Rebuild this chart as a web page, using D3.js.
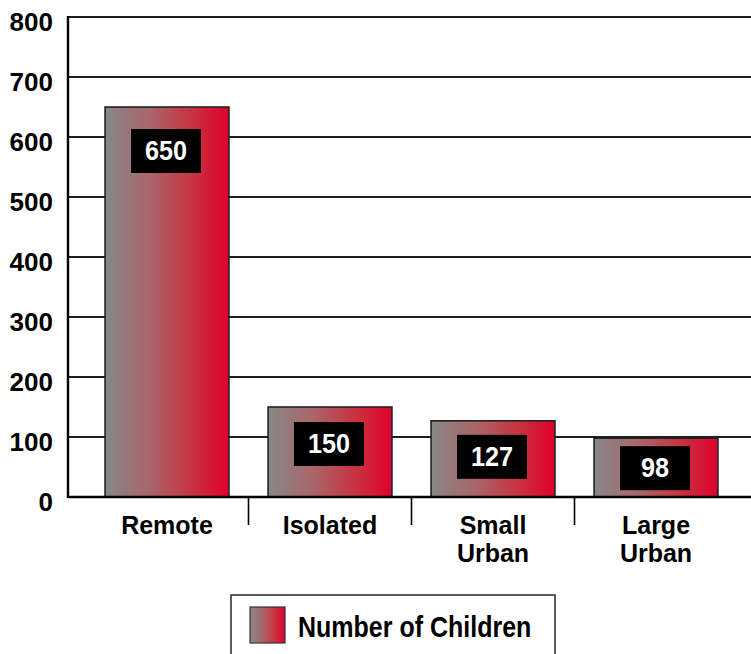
<!DOCTYPE html>
<html><head><meta charset="utf-8">
<script src="https://cdn.jsdelivr.net/npm/d3@7/dist/d3.min.js"></script>
<style>body{margin:0;background:#fff}svg{display:block}</style>
</head><body>
<svg id="c" width="751" height="654"></svg>
<script>
const categories = [["Remote"], ["Isolated"], ["Small", "Urban"], ["Large", "Urban"]];
const categoryKeys = ["Remote", "Isolated", "Small Urban", "Large Urban"];
const values = [650, 150, 127, 98];
const yTicks = [0, 100, 200, 300, 400, 500, 600, 700, 800];
const seriesName = "Number of Children";

// layout (not data)
const labelDrop = [44, 37, 36, 30];
const font = "'Liberation Sans',Arial,sans-serif";

const svg = d3.select("#c");
const defs = svg.append("defs");
const grad = defs.append("linearGradient").attr("id", "g").attr("x1", 0).attr("x2", 1).attr("y1", 0).attr("y2", 0);
[[0, "#888787"], [0.35, "#a8676b"], [0.72, "#c9303f"], [1, "#e0002b"]].forEach(([o, c]) =>
  grad.append("stop").attr("offset", o).attr("stop-color", c));

const pLeft = 68, pRight = 751, pTop = 17, pBottom = 497;
const y = d3.scaleLinear().domain([0, 800]).range([pBottom, pTop]);
const x = d3.scaleBand().domain(categoryKeys).range([85.5, 737.5]).paddingInner(0.24).paddingOuter(0.12);

// gridlines
svg.append("g").selectAll("line").data(yTicks.filter(t => t > 0)).join("line")
  .attr("x1", pLeft).attr("x2", pRight).attr("y1", d => y(d)).attr("y2", d => y(d))
  .attr("stroke", "#1e1e1e").attr("stroke-width", 1.8);

// y axis labels
const yAxis = d3.axisLeft(y).tickValues(yTicks).tickSize(0).tickPadding(0);
const ya = svg.append("g").attr("transform", `translate(53,0)`).call(yAxis);
ya.select(".domain").remove();
ya.selectAll("text").attr("font-family", font).attr("font-weight", "bold").attr("font-size", 26)
  .attr("fill", "#000").attr("dy", 13).attr("text-anchor", "end").attr("x", 0);

// bars
svg.append("g").selectAll("rect").data(values).join("rect")
  .attr("x", (d, i) => x(categoryKeys[i])).attr("width", x.bandwidth())
  .attr("y", d => y(d)).attr("height", d => y(0) - y(d))
  .attr("fill", "url(#g)").attr("stroke", "#222").attr("stroke-width", 1.6);

// axes lines
svg.append("line").attr("x1", pLeft).attr("x2", pLeft).attr("y1", pTop - 1).attr("y2", pBottom + 1)
  .attr("stroke", "#000").attr("stroke-width", 2.4);
svg.append("line").attr("x1", pLeft).attr("x2", pRight).attr("y1", pBottom).attr("y2", pBottom)
  .attr("stroke", "#000").attr("stroke-width", 2.4);

// category separator ticks
const gap = (x.step() - x.bandwidth()) / 2;
svg.append("g").selectAll("line").data(categoryKeys.slice(1)).join("line")
  .attr("x1", d => x(d) - gap).attr("x2", d => x(d) - gap)
  .attr("y1", pBottom).attr("y2", 525).attr("stroke", "#000").attr("stroke-width", 1.6);

// category labels
const cl = svg.append("g").selectAll("text").data(categories).join("text")
  .attr("x", (d, i) => x(categoryKeys[i]) + x.bandwidth() / 2)
  .attr("y", 534).attr("text-anchor", "middle")
  .attr("font-family", font).attr("font-weight", "bold").attr("font-size", 25).attr("fill", "#000");
cl.each(function (d, i) {
  const cx = x(categoryKeys[i]) + x.bandwidth() / 2;
  d3.select(this).selectAll("tspan").data(d).join("tspan")
    .attr("x", cx).attr("dy", (t, j) => j === 0 ? 0 : 28).text(t => t);
});

// value boxes
const vb = svg.append("g").selectAll("g").data(values).join("g")
  .attr("transform", (d, i) => `translate(${x(categoryKeys[i]) + x.bandwidth() / 2 - 1},${y(d) + labelDrop[i]})`);
vb.append("rect").attr("x", -35).attr("y", -22).attr("width", 70).attr("height", 44).attr("fill", "#000");
vb.append("text").attr("text-anchor", "middle").attr("dy", 8)
  .attr("transform", "scale(1.05,1.12)")
  .attr("font-family", font).attr("font-weight", "bold").attr("font-size", 24).attr("fill", "#fff")
  .text(d => d);

// legend
const lg = svg.append("g");
lg.append("rect").attr("x", 231).attr("y", 595).attr("width", 324).attr("height", 80)
  .attr("fill", "#fff").attr("stroke", "#333").attr("stroke-width", 1.6);
lg.append("rect").attr("x", 250).attr("y", 607).attr("width", 35).attr("height", 36)
  .attr("fill", "url(#g)").attr("stroke", "#333").attr("stroke-width", 1.2);
lg.append("text").attr("transform", "translate(298,637) scale(1,1.15)")
  .attr("font-family", font).attr("font-weight", "bold")
  .attr("font-size", 25).attr("fill", "#000").text(seriesName);
</script>
</body></html>
